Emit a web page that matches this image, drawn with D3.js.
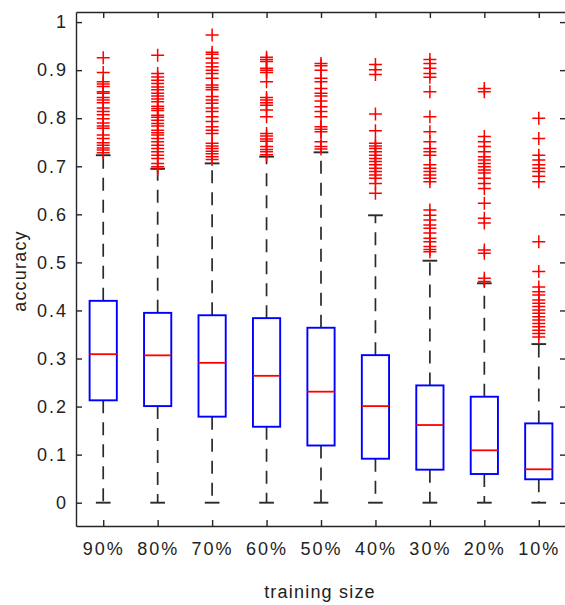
<!DOCTYPE html>
<html>
<head>
<meta charset="utf-8">
<script src="https://cdn.jsdelivr.net/npm/d3@7"></script>
<style>
  html, body { margin: 0; padding: 0; background: #fff; }
  svg { display: block; }
  text { font-family: "Liberation Sans", Arial, sans-serif; fill: #222; }
</style>
</head>
<body>
<svg id="chart" width="565" height="605"></svg>
<script>
// ---- data ----
const categories = ["90%", "80%", "70%", "60%", "50%", "40%", "30%", "20%", "10%"];
const q1 =        [0.213, 0.201, 0.179, 0.158, 0.119, 0.0915, 0.0687, 0.0597, 0.0487];
const medians =   [0.309, 0.3066, 0.291, 0.264, 0.231, 0.201, 0.1616, 0.109, 0.0695];
const q3 =        [0.420, 0.395, 0.390, 0.384, 0.364, 0.307, 0.244, 0.2205, 0.165];
const whiskerLo = [0, 0, 0, 0, 0, 0, 0, 0, 0];
const whiskerHi = [0.723, 0.695, 0.706, 0.720, 0.729, 0.598, 0.5035, 0.4565, 0.330];

const out90 = [0.926, 0.895, 0.876, 0.871, 0.866, 0.855, 0.852, 0.843, 0.838, 0.832, 0.821, 0.814, 0.807, 0.799, 0.790, 0.784, 0.779, 0.765, 0.758, 0.749, 0.744, 0.738, 0.734, 0.728];
const out80 = [0.931, 0.893, 0.886, 0.879, 0.872, 0.865, 0.859, 0.852, 0.846, 0.840, 0.834, 0.825, 0.820, 0.816, 0.806, 0.802, 0.796, 0.789, 0.784, 0.775, 0.770, 0.765, 0.758, 0.751, 0.744, 0.737, 0.730, 0.723, 0.716, 0.706, 0.699, 0.694];
const out70 = [0.973, 0.937, 0.933, 0.925, 0.915, 0.907, 0.900, 0.893, 0.883, 0.869, 0.864, 0.859, 0.845, 0.838, 0.831, 0.821, 0.814, 0.803, 0.793, 0.782, 0.775, 0.768, 0.748, 0.742, 0.737, 0.731, 0.726, 0.720, 0.714];
const out60 = [0.927, 0.922, 0.918, 0.904, 0.900, 0.895, 0.876, 0.843, 0.838, 0.832, 0.827, 0.817, 0.803, 0.768, 0.763, 0.757, 0.752, 0.741, 0.735, 0.730, 0.724];
const out50 = [0.914, 0.909, 0.900, 0.883, 0.876, 0.862, 0.852, 0.846, 0.836, 0.824, 0.814, 0.803, 0.782, 0.777, 0.772, 0.751, 0.741, 0.736];
const out40 = [0.912, 0.901, 0.891, 0.809, 0.774, 0.748, 0.742, 0.737, 0.730, 0.723, 0.716, 0.710, 0.703, 0.696, 0.689, 0.682, 0.675, 0.664, 0.644];
const out30 = [0.922, 0.914, 0.904, 0.893, 0.885, 0.855, 0.803, 0.772, 0.751, 0.737, 0.730, 0.723, 0.703, 0.696, 0.689, 0.682, 0.675, 0.668, 0.609, 0.598, 0.588, 0.578, 0.571, 0.561, 0.550, 0.543, 0.533, 0.527, 0.522];
const out20 = [0.862, 0.855, 0.762, 0.751, 0.741, 0.730, 0.720, 0.713, 0.706, 0.699, 0.692, 0.686, 0.675, 0.664, 0.654, 0.623, 0.592, 0.582, 0.526, 0.519, 0.467, 0.460];
const out10 = [0.800, 0.758, 0.723, 0.713, 0.703, 0.696, 0.689, 0.679, 0.668, 0.543, 0.481, 0.449, 0.439, 0.432, 0.422, 0.415, 0.408, 0.401, 0.394, 0.387, 0.380, 0.373, 0.366, 0.359, 0.352, 0.345];
const outliers = [out90, out80, out70, out60, out50, out40, out30, out20, out10];

const yTicks = [0, 0.1, 0.2, 0.3, 0.4, 0.5, 0.6, 0.7, 0.8, 0.9, 1];
const yTickLabels = ["0", "0.1", "0.2", "0.3", "0.4", "0.5", "0.6", "0.7", "0.8", "0.9", "1"];
const xTitle = "training size";
const yTitle = "accuracy";

(function () {
// ---- layout ----
const pLeft = 76, pRight = 566, pTop = 12, pBottom = 526;
const svg = d3.select("#chart");

const x = d3.scaleLinear().domain([0.5, categories.length + 0.5]).range([pLeft, pRight]);
const y = d3.scaleLinear().domain([-0.0485, 1.021]).range([pBottom, pTop]);
const step = x(2) - x(1);
const boxHalf = step * 0.25;
const capHalf = step * 0.135;

const data = categories.map((c, i) => ({
  c, pos: i + 1, q1: q1[i], med: medians[i], q3: q3[i],
  lo: whiskerLo[i], hi: whiskerHi[i], out: outliers[i]
}));

const g = svg.append("g");

// whiskers (dashed)
const wcol = "#2a2a2a";
g.selectAll("line.wup").data(data).join("line")
  .attr("x1", d => x(d.pos)).attr("x2", d => x(d.pos))
  .attr("y1", d => y(d.q3)).attr("y2", d => y(d.hi))
  .attr("stroke", wcol).attr("stroke-width", 1.7).attr("stroke-dasharray", "13,9");
g.selectAll("line.wlo").data(data).join("line")
  .attr("x1", d => x(d.pos)).attr("x2", d => x(d.pos))
  .attr("y1", d => y(d.q1)).attr("y2", d => y(d.lo))
  .attr("stroke", wcol).attr("stroke-width", 1.7).attr("stroke-dasharray", "13,9");

// caps
["hi", "lo"].forEach(k => {
  g.selectAll("line.cap" + k).data(data).join("line")
    .attr("x1", d => x(d.pos) - capHalf).attr("x2", d => x(d.pos) + capHalf)
    .attr("y1", d => y(d[k])).attr("y2", d => y(d[k]))
    .attr("stroke", wcol).attr("stroke-width", 1.9);
});

// outliers (+)
const ms = 6.5;
data.forEach(d => {
  g.append("g").selectAll("path").data(d.out).join("path")
    .attr("d", v => {
      const cx = x(d.pos), cy = y(v);
      return `M${cx - ms},${cy}H${cx + ms}M${cx},${cy - ms}V${cy + ms}`;
    })
    .attr("stroke", "#ff0000").attr("stroke-width", 1.5).attr("fill", "none");
});

// boxes
g.selectAll("rect.box").data(data).join("rect")
  .attr("x", d => x(d.pos) - boxHalf).attr("width", boxHalf * 2)
  .attr("y", d => y(d.q3)).attr("height", d => y(d.q1) - y(d.q3))
  .attr("fill", "none").attr("stroke", "#0000ff").attr("stroke-width", 1.9);

// medians
g.selectAll("line.med").data(data).join("line")
  .attr("x1", d => x(d.pos) - boxHalf).attr("x2", d => x(d.pos) + boxHalf)
  .attr("y1", d => y(d.med)).attr("y2", d => y(d.med))
  .attr("stroke", "#ff0000").attr("stroke-width", 1.8);

// axes
const acol = "#262626";
const tl = 6;
const axL = d3.axisLeft(y).tickValues(yTicks).tickFormat((d, i) => yTickLabels[i]).tickSizeInner(-tl).tickSizeOuter(0).tickPadding(8);
const axR = d3.axisRight(y).tickValues(yTicks).tickFormat("").tickSizeInner(-tl).tickSizeOuter(0);
const axB = d3.axisBottom(x).tickValues(data.map(d => d.pos)).tickFormat((d, i) => categories[i]).tickSizeInner(-tl).tickSizeOuter(0).tickPadding(16);
const axT = d3.axisTop(x).tickValues(data.map(d => d.pos)).tickFormat("").tickSizeInner(-tl).tickSizeOuter(0);

function styleAxis(sel) {
  sel.select(".domain").attr("stroke", acol).attr("stroke-width", 1.4);
  sel.selectAll(".tick line").attr("stroke", acol).attr("stroke-width", 1.4);
  sel.selectAll(".tick text").attr("fill", "#222").style("font-size", "18px")
    .style("font-family", '"Liberation Sans", Arial, sans-serif').style("letter-spacing", "2px");
}
styleAxis(svg.append("g").attr("transform", `translate(${pLeft},0)`).call(axL));
styleAxis(svg.append("g").attr("transform", `translate(${pRight},0)`).call(axR));
styleAxis(svg.append("g").attr("transform", `translate(0,${pBottom})`).call(axB));
styleAxis(svg.append("g").attr("transform", `translate(0,${pTop})`).call(axT));

// titles
svg.append("text")
  .attr("x", (pLeft + pRight) / 2 - 1).attr("y", 598)
  .attr("text-anchor", "middle")
  .style("font-size", "18px").style("letter-spacing", "1.2px")
  .text(xTitle);
svg.append("text")
  .attr("transform", `translate(26,${271}) rotate(-90)`)
  .attr("text-anchor", "middle")
  .style("font-size", "18px").style("letter-spacing", "1.2px")
  .text(yTitle);
})();
</script>
</body>
</html>
